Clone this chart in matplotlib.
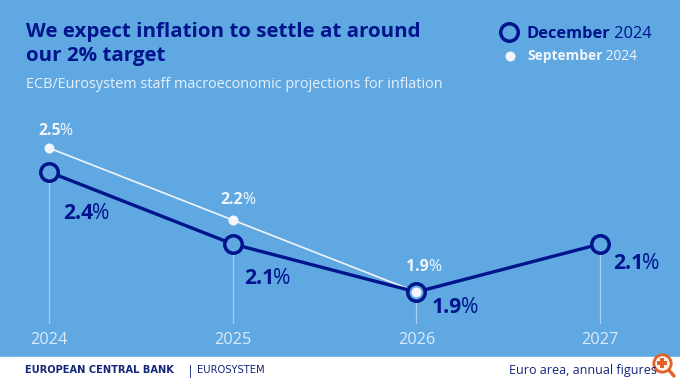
import matplotlib
matplotlib.use("Agg")
import matplotlib.pyplot as plt
from matplotlib.patches import Rectangle

plt.rcParams['font.family'] = ['Open Sans', 'DejaVu Sans']

years = [2024, 2025, 2026, 2027]
december = [2.4, 2.1, 1.9, 2.1]
sept_years = [2024, 2025, 2026]
september = [2.5, 2.2, 1.9]
dec_labels = ["2.4", "2.1", "1.9", "2.1"]
sept_labels = ["2.5", "2.2", "1.9"]

BG = "#5fa8e2"
NAVY = "#00148c"
WHITE = "#f2f5fa"
FOOT = "#14267a"
ORANGE = "#e0622a"
W, H = 680, 382

# label baseline offsets from the point, in pixels of the picture
dec_off = [(14, -47), (11, -40), (15, -21), (13, -25)]
sept_off = [(-11, 13), (-12, 16), (-10, 21)]


def px(x, y):
    return x / W, 1 - y / H


def two_part(x, y, bold, rest, size, color):
    # x, y in picture pixels: bold part, then a regular part on the same baseline
    fx, fy = px(x, y)
    t = fig.text(fx, fy, bold, fontsize=size, fontweight="bold", color=color,
                 va="baseline", ha="left", zorder=6)
    x1 = t.get_window_extent(renderer).x1
    fig.text((x1 - 1) / W, fy, rest, fontsize=size, color=color, va="baseline", ha="left", zorder=6)


def label(xy, off, bold, size, color):
    dx, dy = ax.transData.transform(xy)
    two_part(dx + off[0], H - dy - off[1], bold, "%", size, color)


fig = plt.figure(figsize=(6.8, 3.82), dpi=100, facecolor=BG)
renderer = fig.canvas.get_renderer()
ax = fig.add_axes([0, 0, 1, 1])
ax.set_facecolor(BG)

# 2024 at x=49px, one year = 183.7px; 2.4 at y=172px, 0.1 = 24px
ax.set_xlim(2024 - 49 / 183.7, 2024 + (W - 49) / 183.7)
ax.set_ylim(2.4 - (H - 172) / 240, 2.4 + 172 / 240)
ax.axis("off")

ax.add_patch(Rectangle((0, 0), 1, 25 / H, transform=ax.transAxes, color="white", zorder=1))

# drop lines down to the year labels
for yr, val in zip(years, december):
    ax.plot([yr, yr], [2.4 - (323 - 172) / 240, val], color="#a9cdee", lw=0.9, zorder=2)

ax.plot(sept_years, september, color=WHITE, lw=1.2, zorder=3)
ax.plot(sept_years, september, "o", color=WHITE, ms=7.2, mew=0, zorder=3)
ax.plot(years, december, color=NAVY, lw=2.4, zorder=4)
ax.plot(years, december, "o", mfc=BG, mec=NAVY, ms=12.6, mew=2.5, zorder=5)
ax.plot([2026], [1.9], "o", color=WHITE, ms=7.2, mew=0, zorder=5)

for yr, val, lab, off in zip(years, december, dec_labels, dec_off):
    label((yr, val), off, lab, 15.2, NAVY)

for yr, val, lab, off in zip(sept_years, september, sept_labels, sept_off):
    label((yr, val), off, lab, 11.4, WHITE)

for yr in years:
    ax.annotate(str(yr), xy=(yr, 2.4 - (344 - 172) / 240), ha="center", va="baseline",
                fontsize=11.8, color="#dcebf8", zorder=6)

# heading
fig.text(*px(26, 37), "We expect inflation to settle at around", fontsize=14.75, fontweight="bold",
         color=NAVY, va="baseline", ha="left")
fig.text(*px(26, 61), "our 2% target", fontsize=14.75, fontweight="bold",
         color=NAVY, va="baseline", ha="left")
fig.text(*px(26, 88), "ECB/Eurosystem staff macroeconomic projections for inflation", fontsize=10.35,
         color="#e6f0fa", va="baseline", ha="left")

# legend
ax.plot(*px(509, 32), "o", transform=ax.transAxes, mfc=BG, mec=NAVY, ms=12.6, mew=2.5, zorder=5)
ax.plot(*px(510, 56), "o", transform=ax.transAxes, color=WHITE, ms=7.2, mew=0, zorder=5)
two_part(527, 38, "December", " 2024", 11.8, NAVY)
two_part(527, 60, "September", " 2024", 9.9, WHITE)

# footer
fig.text(*px(25, 373), "EUROPEAN CENTRAL BANK", fontsize=7.1, fontweight="bold", color=FOOT,
         family="DejaVu Sans", va="baseline", ha="left")
fig.text(*px(190, 375), "|", fontsize=9, color=FOOT, va="baseline", ha="center")
fig.text(*px(197, 373), "EUROSYSTEM", fontsize=7.2, color=FOOT, family="DejaVu Sans", va="baseline", ha="left")
fig.text(*px(509, 374), "Euro area, annual figures", fontsize=9, color=FOOT, va="baseline", ha="left")

# magnifier icon in the corner
ax.plot(*zip(px(668, 369), px(674, 376)), transform=ax.transAxes, color=ORANGE, lw=2.4, zorder=7, solid_capstyle="round")
ax.plot(*px(661.5, 363), "o", transform=ax.transAxes, mfc="#fdf2ea", mec=ORANGE, ms=12.5, mew=2, zorder=8)
ax.plot(*px(661.5, 363), "P", transform=ax.transAxes, color=ORANGE, ms=7, mew=0, zorder=9)

fig.savefig("out.png", dpi=100, facecolor=BG)
